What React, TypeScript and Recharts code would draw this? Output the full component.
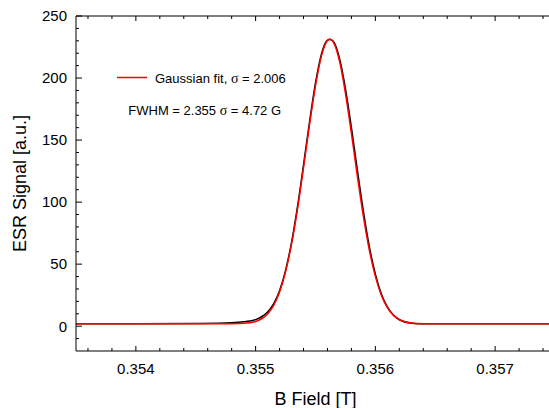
import React from "react";
import { LineChart, Line, XAxis, YAxis } from "recharts";

// B field positions (T) where the curves were read
const fieldT = [
  0.3535, 0.354, 0.3545, 0.3548, 0.3549, 0.355, 0.35505, 0.3551, 0.35515, 0.3552,
  0.35525, 0.3553, 0.35535, 0.3554, 0.35545, 0.3555, 0.35555, 0.3556, 0.35562, 0.35565,
  0.3557, 0.35575, 0.3558, 0.35585, 0.3559, 0.35595, 0.356, 0.35605, 0.3561, 0.35615,
  0.3562, 0.3563, 0.3564, 0.3565, 0.357, 0.3575,
];

// measured ESR signal (black)
const signalExp = [
  1.9, 1.9, 2.2, 2.8, 3.5, 5.3, 7.6, 11.5, 18.0, 28.5,
  45.0, 67.5, 96.5, 130.0, 164.5, 196.0, 219.5, 230.5, 231.0, 229.5,
  216.0, 191.5, 160.0, 125.5, 92.5, 64.0, 42.0, 26.0, 15.5, 9.0,
  5.2, 2.4, 1.9, 1.9, 1.9, 1.9,
];

// gaussian fit (red)
const signalFit = [
  1.9, 1.9, 1.9, 1.95, 2.3, 3.8, 6.0, 9.9, 16.6, 27.5,
  43.8, 66.2, 94.6, 127.7, 162.2, 193.8, 217.9, 230.3, 231.4, 228.8,
  213.9, 187.9, 155.3, 120.8, 88.5, 61.2, 40.1, 24.9, 15.0, 8.9,
  5.4, 2.6, 2.0, 1.9, 1.9, 1.9,
];

const xMajorTicks = [0.354, 0.355, 0.356, 0.357];
const xMinorTicks = [
  0.3536, 0.3538, 0.3542, 0.3544, 0.3546, 0.3548, 0.3552, 0.3554,
  0.3556, 0.3558, 0.3562, 0.3564, 0.3566, 0.3568, 0.3572, 0.3574,
];
const yMajorTicks = [0, 50, 100, 150, 200, 250];
const yMinorTicks = [
  -10, 10, 20, 30, 40, 60, 70, 80, 90, 110, 120, 130, 140,
  160, 170, 180, 190, 210, 220, 230, 240,
];

const fitLabel = "Gaussian fit, σ = 2.006";
const fwhmLabel = "FWHM = 2.355 σ = 4.72 G";
const xTitle = "B Field [T]";
const yTitle = "ESR Signal [a.u.]";

const FONT = "'Liberation Sans', Arial, Helvetica, sans-serif";
const SERIF = "'Liberation Serif', 'DejaVu Serif', serif";
// the original frame is cut at the right edge of the picture
const X_DOMAIN: [number, number] = [0.3535, 0.35745];
const Y_DOMAIN: [number, number] = [-20, 250];

// tick geometry (label offset from the axis line = TICK_SIZE + TICK_MARGIN)
const TICK_SIZE = 6;
const Y_MARGIN = 3;
const X_MARGIN = 6;

const data = fieldT.map((b, i) => ({ b, exp: signalExp[i], fit: signalFit[i] }));

// sigma looks like the Symbol font in the original, so give it a serif face
function withSigma(text: string) {
  const parts = text.split("σ");
  return parts.map((p, i) => (
    <React.Fragment key={i}>
      <tspan>{p}</tspan>
      {i < parts.length - 1 && (
        <tspan fontFamily={SERIF} fontSize={14}>σ</tspan>
      )}
    </React.Fragment>
  ));
}

// inward tick marks (longer for majors) plus a label on the majors
const YTick = (props: any) => {
  const { x, y, payload } = props;
  const v = payload.value;
  const major = yMajorTicks.includes(v);
  const axisX = x + Y_MARGIN + TICK_SIZE;
  return (
    <g>
      <line x1={axisX} y1={y} x2={axisX + (major ? 6 : 3)} y2={y} stroke="#000" />
      {major && (
        <text x={x} y={y} dy="0.355em" textAnchor="end" fontFamily={FONT} fontSize={15} fill="#000">
          {v}
        </text>
      )}
    </g>
  );
};

const XBottomTick = (props: any) => {
  const { x, y, payload } = props;
  const v = payload.value;
  const major = xMajorTicks.includes(v);
  const axisY = y - X_MARGIN - TICK_SIZE;
  return (
    <g>
      <line x1={x} y1={axisY} x2={x} y2={axisY - (major ? 5 : 3)} stroke="#000" />
      {major && (
        <text x={x} y={y} dy="0.71em" textAnchor="middle" fontFamily={FONT} fontSize={15} fill="#000">
          {v.toFixed(3)}
        </text>
      )}
    </g>
  );
};

const XTopTick = (props: any) => {
  const { x, y, payload } = props;
  const major = xMajorTicks.includes(payload.value);
  const axisY = y + X_MARGIN + TICK_SIZE;
  return <line x1={x} y1={axisY} x2={x} y2={axisY + (major ? 5 : 3)} stroke="#000" />;
};

const allXTicks = [...xMajorTicks, ...xMinorTicks];
const allYTicks = [...yMajorTicks, ...yMinorTicks];

export default function App() {
  return (
    <div
      style={{
        position: "fixed",
        left: 0,
        top: 0,
        width: 549,
        height: 408,
        overflow: "hidden",
        background: "#fff",
      }}
    >
      <LineChart width={549} height={408} data={data} margin={{ top: 0, right: 0, bottom: 0, left: 0 }}>
        <XAxis
          xAxisId="b"
          dataKey="b"
          type="number"
          domain={X_DOMAIN}
          allowDataOverflow
          ticks={allXTicks}
          interval={0}
          tickLine={false}
          tickSize={TICK_SIZE}
          tickMargin={X_MARGIN}
          height={57}
          stroke="#000"
          tick={(p: any) => <XBottomTick {...p} />}
        />
        <XAxis
          xAxisId="t"
          orientation="top"
          dataKey="b"
          type="number"
          domain={X_DOMAIN}
          allowDataOverflow
          ticks={allXTicks}
          interval={0}
          tickLine={false}
          tickSize={TICK_SIZE}
          tickMargin={X_MARGIN}
          height={16}
          stroke="#000"
          tick={(p: any) => <XTopTick {...p} />}
        />
        <YAxis
          yAxisId="s"
          type="number"
          domain={Y_DOMAIN}
          allowDataOverflow
          ticks={allYTicks}
          interval={0}
          width={76}
          tickLine={false}
          tickSize={TICK_SIZE}
          tickMargin={Y_MARGIN}
          stroke="#000"
          tick={(p: any) => <YTick {...p} />}
        />
        <Line
          xAxisId="b"
          yAxisId="s"
          type="monotone"
          dataKey="exp"
          name="ESR data"
          stroke="#000"
          strokeWidth={1.5}
          dot={false}
          legendType="none"
          isAnimationActive={false}
        />
        <Line
          xAxisId="b"
          yAxisId="s"
          type="monotone"
          dataKey="fit"
          name={fitLabel}
          stroke="#ff0000"
          strokeWidth={1.5}
          dot={false}
          isAnimationActive={false}
        />
      </LineChart>
      {/* axis titles and the in-plot legend */}
      <svg
        width={549}
        height={408}
        style={{ position: "absolute", left: 0, top: 0, pointerEvents: "none" }}
      >
        <text x={315.5} y={405} textAnchor="middle" fontFamily={FONT} fontSize={18} fill="#000">
          {xTitle}
        </text>
        <text
          x={26}
          y={183.5}
          transform="rotate(-90, 26, 183.5)"
          textAnchor="middle"
          fontFamily={FONT}
          fontSize={18}
          fill="#000"
        >
          {yTitle}
        </text>
        <line x1={117} y1={77.5} x2={147} y2={77.5} stroke="#ff0000" strokeWidth={1.5} />
        <text x={155} y={82.7} fontFamily={FONT} fontSize={13} fill="#000">
          {withSigma(fitLabel)}
        </text>
        <text x={128.3} y={115} fontFamily={FONT} fontSize={13} fill="#000">
          {withSigma(fwhmLabel)}
        </text>
      </svg>
    </div>
  );
}
